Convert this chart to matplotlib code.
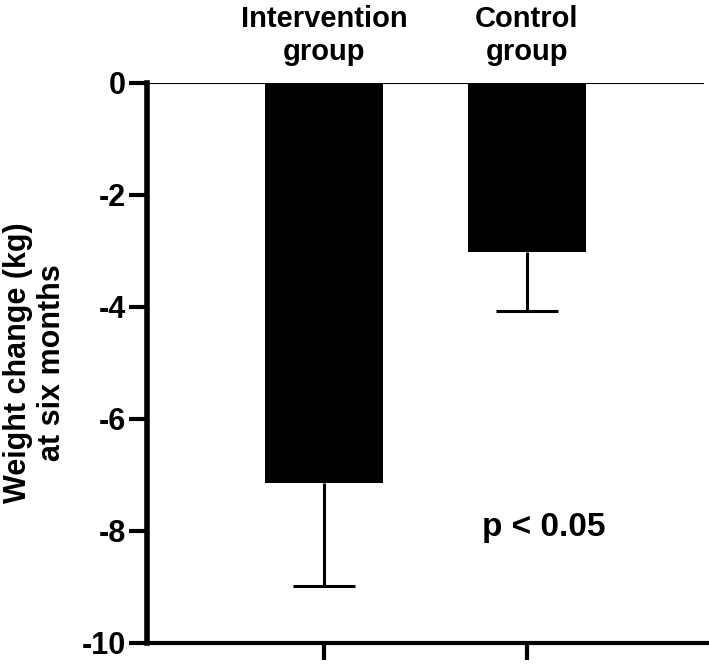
import matplotlib.pyplot as plt
import numpy as np

plt.rcParams['font.family'] = ['Liberation Sans', 'DejaVu Sans']
plt.rcParams['font.weight'] = 'bold'

groups = ["Intervention\ngroup", "Control\ngroup"]
means = [-7.15, -3.02]
sd_low = [1.83, 1.05]
yticks = [0, -2, -4, -6, -8, -10]

fig = plt.figure(figsize=(7.09, 6.66), dpi=100)
W, H = 709, 666
x0, x1 = 147, 709
ytop, ybot = 83, 643
ax = fig.add_axes([x0 / W, (H - ybot) / H, (x1 - x0) / W, (ybot - ytop) / H])

pos = np.arange(len(groups))
ax.bar(pos, means, width=0.58, color='black', zorder=2)
eb = ax.errorbar(pos, means, yerr=[sd_low, [0, 0]], fmt='none', ecolor='black',
                 elinewidth=2.2, capsize=22, capthick=2.2, zorder=3)
# only the lower caps should show
for cl in eb[1]:
    if np.allclose(cl.get_ydata(), means):
        cl.set_visible(False)

ax.set_xlim(-0.872, 1.897)
ax.set_ylim(-10, 0)
ax.axhline(0, xmin=0, xmax=0.99, color='black', lw=1.5, zorder=1)

ax.spines['top'].set_visible(False)
ax.spines['right'].set_visible(False)
ax.spines['left'].set_linewidth(4)
ax.spines['bottom'].set_linewidth(3)
ax.spines['bottom'].set_capstyle('butt')

ax.set_yticks(yticks)
ax.set_yticklabels([str(v) for v in yticks], fontsize=22, fontweight='bold')
ax.tick_params(axis='y', length=13, width=3, pad=2)
ax.set_xticks(pos)
ax.set_xticklabels([])
ax.tick_params(axis='x', length=12, width=3)

for p, g in zip(pos, groups):
    ax.text(p, 1.03, g, transform=ax.get_xaxis_transform(), ha='center', va='bottom',
            fontsize=21, fontweight='bold', linespacing=1.25)

ax.set_ylabel("Weight change (kg)\nat six months", fontsize=22, fontweight='bold',
              linespacing=1.15, labelpad=11)

ax.text(1.084, -7.93, "p < 0.05", ha='center', va='center', fontsize=24, fontweight='bold')

fig.savefig("out.png", dpi=100)
